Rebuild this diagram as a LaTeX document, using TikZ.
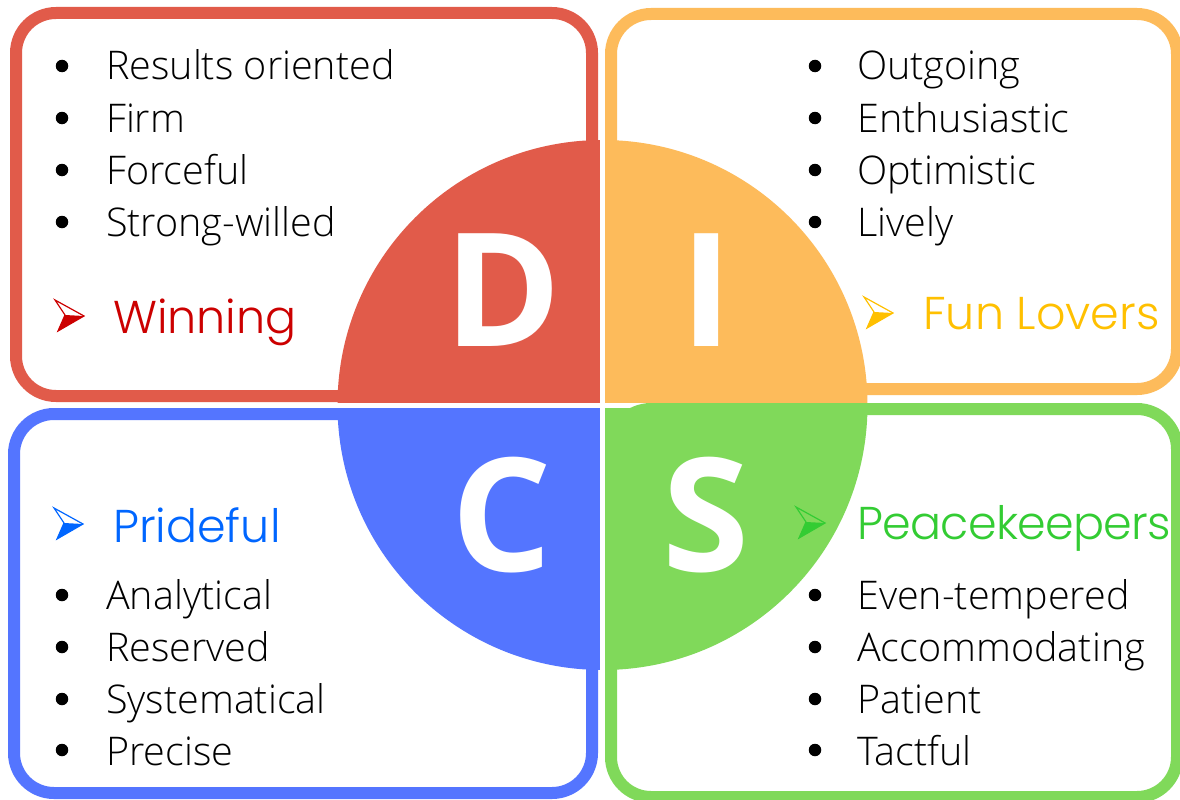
\documentclass[tikz,border=0pt]{standalone}
\usepackage{fontspec}
\setmainfont{Open Sans}
\newfontfamily\lightfont{Open Sans Light}
\newfontfamily\headfont{Poppins Light}
\definecolor{cD}{HTML}{E15B4A}
\definecolor{cI}{HTML}{FDBB5B}
\definecolor{cS}{HTML}{80D95A}
\definecolor{cC}{HTML}{5475FF}
\definecolor{tD}{HTML}{CC0000}
\definecolor{tI}{HTML}{FFC000}
\definecolor{tC}{HTML}{0066FF}
\definecolor{tS}{HTML}{33CC33}
\tikzset{
  box/.style={line width=12pt, rounded corners=40pt},
  item/.style={anchor=base west, inner sep=0pt, font=\lightfont\fontsize{39.5}{48}\selectfont, text=black},
  bul/.style={circle, fill=black, inner sep=0pt, minimum size=12.5pt},
  head/.style={anchor=base west, inner sep=0pt, font=\headfont\fontsize{46}{52}\selectfont},
  letter/.style={anchor=base, inner sep=0pt, font=\bfseries\fontsize{158}{158}\selectfont, text=white},
  pics/arr/.style={code={
    \fill (-19,-1) -- (0,0) -- (-26,15) -- cycle;
    \draw[line width=1.2pt, line join=miter] (-29,-16) -- (0,0) -- (-26,15) -- (-19,-1) -- cycle;
  }}
}
\begin{document}
\begin{tikzpicture}[x=1pt,y=-1pt]
\useasboundingbox (0,0) rectangle (1180,800);
\fill[white] (0,0) rectangle (1180,800);
% boxes
\draw[box, cD] (16,13) rectangle (592,396);
\draw[box, cI] (611,14) rectangle (1177,389);
\draw[box, cC] (14,414) rectangle (592,793);
\draw[box, cS] (611,409) rectangle (1177,797);
% circle quadrants
\begin{scope}
\clip (602.5,405) circle[radius=265pt];
\fill[cD] (330,130) rectangle (600,402.5);
\fill[cI] (605,130) rectangle (875,402.5);
\fill[cC] (330,407.5) rectangle (600,680);
\fill[cS] (605,407.5) rectangle (875,680);
\end{scope}
% letters
\node[letter] (D) at (502.5,346) {D};
\node[letter] (I) at (706.5,346) {I};
\node[letter] (C) at (502,571) {C};
\node[letter] (S) at (706.5,571) {S};
% D list
\node[bul] (bd1) at (62,66) {}; \node[item] (d1) at (106,80) {Results oriented};
\node[bul] (bd2) at (62,118) {}; \node[item] (d2) at (106,132) {Firm};
\node[bul] (bd3) at (62,170) {}; \node[item] (d3) at (106,184) {Forceful};
\node[bul] (bd4) at (62,222) {}; \node[item] (d4) at (106,236) {Strong-willed};
\pic[tD] at (84,316) {arr};
\node[head, text=tD] (hd) at (113,333) {Winning};
% I list
\node[bul] (bi1) at (815,66) {}; \node[item] (i1) at (857,80) {Outgoing};
\node[bul] (bi2) at (815,118) {}; \node[item] (i2) at (857,132) {Enthusiastic};
\node[bul] (bi3) at (815,170) {}; \node[item] (i3) at (857,184) {Optimistic};
\node[bul] (bi4) at (815,222) {}; \node[item] (i4) at (857,236) {Lively};
\pic[tI] at (893,313) {arr};
\node[head, text=tI] (hi) at (923,329) {Fun Lovers};
% C list
\pic[tC] at (83,524) {arr};
\node[head, text=tC] (hc) at (113,542) {Prideful};
\node[bul] (bc1) at (62,595) {}; \node[item] (c1) at (106,609) {Analytical};
\node[bul] (bc2) at (62,647) {}; \node[item] (c2) at (106,661) {Reserved};
\node[bul] (bc3) at (62,699) {}; \node[item] (c3) at (106,713) {Systematical};
\node[bul] (bc4) at (62,750) {}; \node[item] (c4) at (106,765) {Precise};
% S list
\pic[tS] at (825,523) {arr};
\node[head, text=tS] (hs) at (857,539) {\addfontfeatures{LetterSpace=-1.5}Peacekeepers};
\node[bul] (bs1) at (815,595) {}; \node[item] (s1) at (857,609) {Even-tempered};
\node[bul] (bs2) at (815,647) {}; \node[item] (s2) at (857,661) {Accommodating};
\node[bul] (bs3) at (815,699) {}; \node[item] (s3) at (857,713) {Patient};
\node[bul] (bs4) at (815,750) {}; \node[item] (s4) at (857,765) {Tactful};
\end{tikzpicture}
\end{document}
